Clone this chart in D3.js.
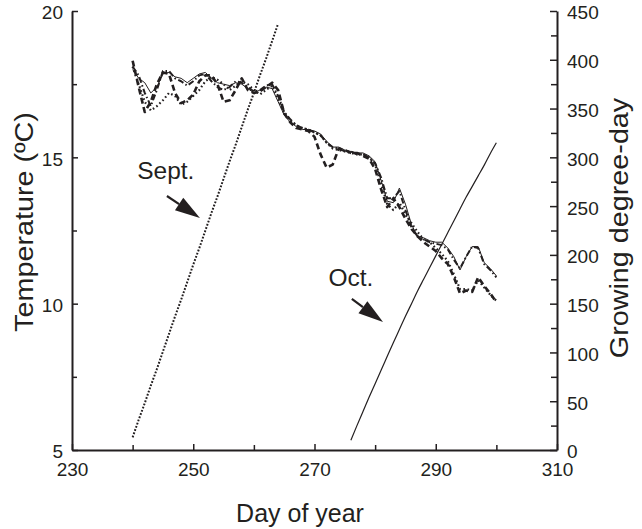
<!DOCTYPE html>
<html>
<head>
<meta charset="utf-8">
<script src="https://cdn.jsdelivr.net/npm/d3@7"></script>
<style>
  html, body { margin: 0; padding: 0; background: #fff; }
  svg { display: block; }
  text { font-family: "Liberation Sans", Arial, Helvetica, sans-serif; fill: #231f20; }
</style>
</head>
<body>
<svg id="chart" width="642" height="529"></svg>
<script>
// Daily mean temperature (°C), days 240–300, four records
const days = d3.range(240, 301);

const tempSolid = [
  18.0, 17.7, 17.55, 17.2, 17.4, 17.85, 17.9, 17.75, 17.7, 17.55,
  17.7, 17.85, 17.9, 17.7, 17.55, 17.5, 17.45, 17.55, 17.5, 17.35,
  17.2, 17.3, 17.4, 17.35, 16.9, 16.45, 16.2, 16.05, 15.95, 15.95,
  15.9, 15.8, 15.55, 15.35, 15.35, 15.25, 15.2, 15.15, 15.15, 15.05,
  14.85, 14.2, 13.5, 13.45, 13.95, 13.4, 12.7, 12.3, 12.25, 12.15,
  12.1, 12.1, 11.9, 11.6, 11.15, 11.6, 11.95, 11.95, 11.4, 11.2,
  10.95
];
const tempDashed = [
  18.3, 17.4, 16.55, 16.9, 17.5, 17.9, 17.85, 17.2, 16.85, 16.95,
  17.15, 17.6, 17.8, 17.8, 17.5, 16.9, 16.95, 17.3, 17.7, 17.3,
  17.2, 17.25, 17.4, 17.55, 17.3, 16.5, 16.2, 16.0, 15.95, 15.9,
  15.7, 15.1, 14.65, 14.75, 15.3, 15.25, 15.15, 15.15, 15.05, 14.95,
  14.6, 13.9, 13.3, 13.6, 13.3, 12.9, 12.55, 12.3, 12.1, 11.95,
  11.8, 11.55, 11.35, 10.9, 10.35, 10.45, 10.4, 10.9, 10.6, 10.35,
  10.05
];
const tempDotted = [
  18.1, 17.5, 16.9, 16.6, 16.75, 16.95, 17.2, 17.1, 16.8, 16.9,
  17.1, 17.3, 17.6, 17.75, 17.65, 17.5, 17.3, 17.45, 17.6, 17.5,
  17.3, 17.15, 17.3, 17.45, 17.0, 16.5, 16.25, 16.1, 16.0, 15.95,
  15.85, 15.75, 15.5, 15.3, 15.25, 15.2, 15.15, 15.1, 15.1, 15.0,
  14.75, 14.1, 13.4, 13.2, 13.45, 13.05, 12.75, 12.45, 12.2, 12.1,
  11.9, 11.7, 11.45, 11.0, 10.5, 10.5, 10.45, 10.8, 10.55, 10.3,
  10.1
];
const tempDashDot = [
  18.1, 17.8, 17.2, 16.75, 17.3, 17.95, 17.95, 17.7, 17.6, 17.45,
  17.6, 17.8, 17.85, 17.6, 17.4, 17.3, 17.4, 17.6, 17.55, 17.4,
  17.25, 17.3, 17.45, 17.5, 17.1, 16.55, 16.3, 16.1, 16.0, 15.95,
  15.85, 15.75, 15.5, 15.35, 15.3, 15.2, 15.2, 15.1, 15.1, 15.0,
  14.8, 14.3, 13.6, 13.6, 13.85, 13.2, 12.6, 12.3, 12.2, 12.1,
  12.05, 12.0, 11.85, 11.5, 11.2, 11.6, 11.95, 11.9, 11.35, 11.15,
  10.9
];

// Cumulative growing degree-days for the September and October plantings
const septStart = 240;
const gddSept = [
  13, 31, 48, 66, 83, 101, 119, 137, 154, 172,
  190, 207, 225, 243, 260, 278, 296, 313, 331, 349,
  366, 384, 401, 419, 437
];
const octStart = 276;
const gddOct = [
  10, 25, 39.5, 54, 68, 82, 96, 110, 123.5, 137,
  150, 163, 175, 187, 199, 211, 223, 235, 247, 259,
  270, 281, 292, 304, 315
];

// Axis ticks
const dayTicks = [230, 250, 270, 290, 310];
const dayMinor = [240, 260, 280, 300];
const tempTicks = [5, 10, 15, 20];
const tempMinor = [7.5, 12.5, 17.5];
const gddTicks = [0, 50, 100, 150, 200, 250, 300, 350, 400, 450];
const gddMinor = [25, 75, 125, 175, 225, 275, 325, 375, 425];

const svg = d3.select("#chart");
const x = d3.scaleLinear().domain([230, 310]).range([72, 557]);
const yT = d3.scaleLinear().domain([5, 20]).range([450, 11]);
const yG = d3.scaleLinear().domain([0, 450]).range([450, 11]);

const ink = "#231f20";

// Temperature records
const tempSeries = [
  { values: tempSolid, width: 1, dash: null },
  { values: tempDashDot, width: 2, dash: "6,2.5,1.5,2.5" },
  { values: tempDotted, width: 2.2, dash: "1.6,2.6" },
  { values: tempDashed, width: 2.6, dash: "6,3.5" }
];
const tLine = d3.line().x((d, i) => x(days[i])).y(d => yT(d));
svg.append("g").selectAll("path").data(tempSeries).join("path")
  .attr("d", s => tLine(s.values))
  .attr("fill", "none")
  .attr("stroke", ink)
  .attr("stroke-width", s => s.width)
  .attr("stroke-dasharray", s => s.dash)
  .attr("stroke-linejoin", "round");

// Growing degree-day curves
svg.append("path")
  .attr("d", d3.line().x((d, i) => x(septStart + i)).y(d => yG(d))(gddSept))
  .attr("fill", "none").attr("stroke", ink)
  .attr("stroke-width", 2).attr("stroke-dasharray", "1.8,1.6");
svg.append("path")
  .attr("d", d3.line().curve(d3.curveMonotoneX).x((d, i) => x(octStart + i)).y(d => yG(d))(gddOct))
  .attr("fill", "none").attr("stroke", ink).attr("stroke-width", 1.2);

// Axes
function styleAxis(g) {
  g.select(".domain").attr("stroke", ink).attr("stroke-width", 2);
  g.selectAll(".tick line").attr("stroke", ink).attr("stroke-width", 1.5);
  g.selectAll(".tick text").attr("font-size", 19).attr("fill", ink)
    .attr("font-family", "Liberation Sans, Arial, sans-serif");
}

svg.append("g").attr("transform", "translate(72,0)")
  .call(d3.axisLeft(yT).tickValues(tempMinor).tickSizeInner(-5).tickSizeOuter(0).tickFormat(""))
  .call(styleAxis).select(".domain").remove();
svg.append("g").attr("transform", "translate(72,0)")
  .call(d3.axisLeft(yT).tickValues(tempTicks).tickSizeInner(-6).tickSizeOuter(0).tickPadding(9))
  .call(styleAxis)
  .selectAll(".tick text").attr("dy", "0.42em");

svg.append("g").attr("transform", "translate(557,0)")
  .call(d3.axisRight(yG).tickValues(gddMinor).tickSizeInner(-6).tickSizeOuter(0).tickFormat(""))
  .call(styleAxis).select(".domain").remove();
svg.append("g").attr("transform", "translate(557,0)")
  .call(d3.axisRight(yG).tickValues(gddTicks).tickSizeInner(-7).tickSizeOuter(0).tickPadding(10))
  .call(styleAxis)
  .selectAll(".tick text").attr("dy", "0.42em");

svg.append("g").attr("transform", "translate(0,450)")
  .call(d3.axisBottom(x).tickValues(dayMinor).tickSizeInner(-5).tickSizeOuter(0).tickFormat(""))
  .call(styleAxis).select(".domain").remove();
svg.append("g").attr("transform", "translate(0,450)")
  .call(d3.axisBottom(x).tickValues(dayTicks).tickSizeInner(-6).tickSizeOuter(0).tickPadding(13))
  .call(styleAxis);

// Axis titles
svg.append("text")
  .attr("transform", "translate(300,522)")
  .attr("text-anchor", "middle").attr("font-size", 25)
  .text("Day of year");
svg.append("text")
  .attr("transform", "translate(33,222) rotate(-90) scale(1.15,1)")
  .attr("text-anchor", "middle").attr("font-size", 25)
  .text("Temperature (ºC)");
svg.append("text")
  .attr("transform", "translate(628,228) rotate(-90) scale(1.15,1)")
  .attr("text-anchor", "middle").attr("font-size", 25)
  .text("Growing degree-day");

// Month annotations with arrows
const notes = [
  { label: "Sept.", tx: 240.75, ty: 14.25, from: [245.66, 13.68], to: [251.1, 12.93] },
  { label: "Oct.", tx: 272.3, ty: 10.6, from: [276.16, 10.16], to: [281.3, 9.37] }
];
notes.forEach(n => {
  svg.append("text")
    .attr("x", x(n.tx)).attr("y", yT(n.ty))
    .attr("font-size", 24.5)
    .text(n.label);
  const x0 = x(n.from[0]), y0 = yT(n.from[1]);
  const x1 = x(n.to[0]), y1 = yT(n.to[1]);
  const ang = Math.atan2(y1 - y0, x1 - x0);
  const headLen = 25, headHalf = 7.5;
  const bx = x1 - headLen * Math.cos(ang), by = y1 - headLen * Math.sin(ang);
  svg.append("line")
    .attr("x1", x0).attr("y1", y0).attr("x2", bx).attr("y2", by)
    .attr("stroke", ink).attr("stroke-width", 2.2);
  const px = -Math.sin(ang) * headHalf, py = Math.cos(ang) * headHalf;
  svg.append("path")
    .attr("d", `M${x1},${y1}L${bx + px},${by + py}L${bx - px},${by - py}Z`)
    .attr("fill", ink);
});
</script>
</body>
</html>
